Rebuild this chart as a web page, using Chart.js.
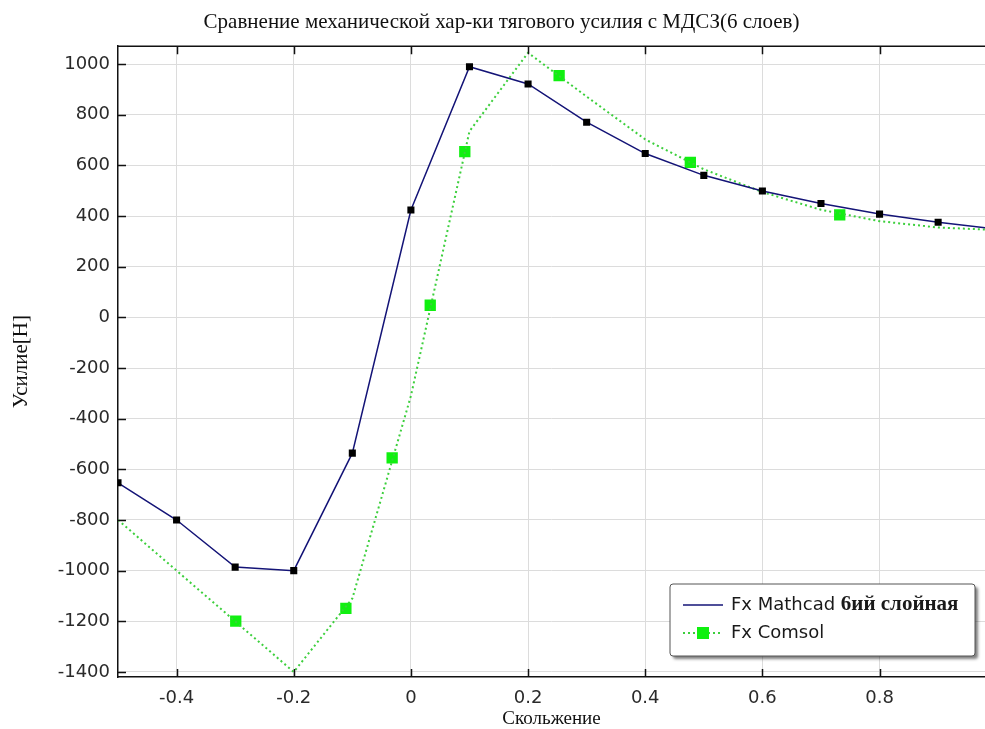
<!DOCTYPE html>
<html>
<head>
    <meta charset="utf-8">
    <title>Сравнение механической хар-ки тягового усилия</title>
    <script src="https://cdn.jsdelivr.net/npm/chart.js"></script>
    <style>
        body {
            margin: 0;
            background-color: #fff;
        }

        .chart-box {
            position: relative;
            width: 985px;
            height: 729px;
        }
    </style>
</head>
<body>
    <div class="chart-box">
        <canvas id="forceChart"></canvas>
    </div>

    <script>
        // slip values and force [N]
        const slip = [-0.5, -0.4, -0.3, -0.2, -0.1, 0, 0.1, 0.2, 0.3, 0.4, 0.5, 0.6, 0.7, 0.8, 0.9, 1.0];
        const mathcadForce = [-653, -800, -986, -1000, -536, 424, 990, 922, 771, 647, 561, 499, 450, 408, 376, 348];
        const comsolForce = [-800, -1000, -1200, -1400, -1110, -310, 735, 1045, 872, 703, 585, 495, 425, 380, 355, 345];

        // Comsol markers sit along the curve, not on the data points
        const comsolMarkerSlip = [-0.299, -0.111, -0.032, 0.033, 0.092, 0.253, 0.477, 0.732];
        const comsolMarkerForce = [-1199, -1149, -555, 48, 655, 955, 612, 405];

        const xTicks = [-0.4, -0.2, 0, 0.2, 0.4, 0.6, 0.8];
        const yTicks = [-1400, -1200, -1000, -800, -600, -400, -200, 0, 200, 400, 600, 800, 1000];

        const chartTitle = 'Сравнение механической хар-ки тягового усилия с МДСЗ(6 слоев)';
        const xTitle = 'Скольжение';
        const yTitle = 'Усилие[Н]';

        const serif = '"Liberation Serif", "DejaVu Serif", serif';
        const sans = '"DejaVu Sans", sans-serif';

        // top frame line and the small inward tick marks
        const axesFrame = {
            id: 'axesFrame',
            afterDatasetsDraw(chart) {
                const { ctx, chartArea: a, scales: { x, y } } = chart;
                ctx.save();
                ctx.strokeStyle = '#111';
                ctx.lineWidth = 1.5;
                ctx.beginPath();
                ctx.moveTo(a.left, a.top);
                ctx.lineTo(a.right, a.top);
                xTicks.forEach(v => {
                    const px = Math.round(x.getPixelForValue(v)) + 0.5;
                    ctx.moveTo(px, a.top);
                    ctx.lineTo(px, a.top + 8);
                    ctx.moveTo(px, a.bottom);
                    ctx.lineTo(px, a.bottom - 8);
                });
                yTicks.forEach(v => {
                    const py = Math.round(y.getPixelForValue(v)) + 0.5;
                    ctx.moveTo(a.left, py);
                    ctx.lineTo(a.left + 8, py);
                });
                ctx.stroke();
                ctx.restore();
            }
        };

        // latin part in sans, the cyrillic words in serif (like the original font fallback)
        function drawMixed(ctx, text, x, y) {
            const cyr = text.search(/[\u0400-\u04FF]/);
            let first = text, second = '';
            if (cyr >= 0) {
                const cut = text.lastIndexOf(' ', cyr) + 1;
                first = text.slice(0, cut);
                second = text.slice(cut);
            }
            ctx.font = '18px ' + sans;
            ctx.fillText(first, x, y);
            const w = ctx.measureText(first).width;
            ctx.font = 'bold 21px ' + serif;
            ctx.fillText(second, x + w, y);
        }

        // boxed legend inside the plot, bottom right
        const boxLegend = {
            id: 'boxLegend',
            afterDraw(chart) {
                const { ctx, chartArea: a } = chart;
                const ds = chart.data.datasets;
                const bw = 305, bh = 72;
                const bx = a.right - 10 - bw;
                const by = a.bottom - 21 - bh;
                ctx.save();
                ctx.shadowColor = 'rgba(0, 0, 0, 0.5)';
                ctx.shadowBlur = 3;
                ctx.shadowOffsetX = 3;
                ctx.shadowOffsetY = 3;
                ctx.fillStyle = '#fff';
                ctx.beginPath();
                ctx.roundRect(bx, by, bw, bh, 3);
                ctx.fill();
                ctx.shadowColor = 'transparent';
                ctx.strokeStyle = '#555';
                ctx.lineWidth = 1;
                ctx.stroke();

                const rows = [by + 21, by + 49];
                const sx = bx + 13, ex = bx + 53;

                // row 1: solid line
                ctx.strokeStyle = ds[0].borderColor;
                ctx.lineWidth = ds[0].borderWidth;
                ctx.beginPath();
                ctx.moveTo(sx, rows[0]);
                ctx.lineTo(ex, rows[0]);
                ctx.stroke();

                // row 2: dotted line + square marker
                ctx.strokeStyle = ds[1].borderColor;
                ctx.lineWidth = ds[1].borderWidth;
                ctx.setLineDash(ds[1].borderDash);
                ctx.beginPath();
                ctx.moveTo(sx, rows[1]);
                ctx.lineTo(ex, rows[1]);
                ctx.stroke();
                ctx.setLineDash([]);
                ctx.fillStyle = ds[2].pointBackgroundColor;
                ctx.fillRect((sx + ex) / 2 - 6, rows[1] - 6, 12, 12);

                ctx.fillStyle = '#1a1a1a';
                ctx.textBaseline = 'middle';
                ctx.textAlign = 'left';
                drawMixed(ctx, ds[0].label, ex + 8, rows[0]);
                drawMixed(ctx, ds[1].label, ex + 8, rows[1]);
                ctx.restore();
            }
        };

        const forceChart = new Chart(document.getElementById('forceChart'), {
            type: 'line',
            data: {
                datasets: [
                    {
                        label: 'Fx Mathcad 6ий слойная',
                        data: slip.map((s, i) => ({ x: s, y: mathcadForce[i] })),
                        borderColor: '#141477',
                        borderWidth: 1.5,
                        pointStyle: 'rect',
                        pointRadius: 5,
                        pointBackgroundColor: '#000',
                        pointBorderWidth: 0,
                        tension: 0
                    },
                    {
                        label: 'Fx Comsol',
                        data: slip.map((s, i) => ({ x: s, y: comsolForce[i] })),
                        borderColor: '#3ccf3c',
                        borderWidth: 2,
                        borderDash: [2, 3],
                        pointRadius: 0,
                        tension: 0
                    },
                    {
                        label: 'Fx Comsol markers',
                        data: comsolMarkerSlip.map((s, i) => ({ x: s, y: comsolMarkerForce[i] })),
                        showLine: false,
                        pointStyle: 'rect',
                        pointRadius: 8,
                        pointBackgroundColor: '#10f010',
                        pointBorderWidth: 0
                    }
                ]
            },
            options: {
                responsive: true,
                maintainAspectRatio: false,
                animation: false,
                layout: { autoPadding: false, padding: { left: 18, right: 0, top: 0, bottom: 0 } },
                plugins: {
                    legend: { display: false },
                    tooltip: { enabled: false },
                    title: {
                        display: true,
                        text: chartTitle,
                        color: '#111',
                        font: { family: serif, size: 21, weight: 'normal' },
                        padding: { top: 10, bottom: 11 }
                    }
                },
                scales: {
                    x: {
                        type: 'linear',
                        min: -0.5,
                        max: 0.98,
                        afterBuildTicks: s => { s.ticks = xTicks.map(v => ({ value: v })); },
                        afterFit: s => {
                            s.height = 52;
                            s.paddingLeft = 0;
                            s.paddingRight = 0;
                        },
                        ticks: {
                            callback: v => String(v),
                            color: '#2a2a2a',
                            font: { family: sans, size: 18 },
                            padding: 11,
                            maxRotation: 0,
                            autoSkip: false
                        },
                        grid: { color: '#dcdcdc', drawTicks: false },
                        border: { color: '#111', width: 1.5 },
                        title: {
                            display: true,
                            text: xTitle,
                            color: '#111',
                            font: { family: serif, size: 19, lineHeight: 1 },
                            padding: { top: 0, bottom: 0 }
                        }
                    },
                    y: {
                        min: -1420,
                        max: 1071,
                        afterBuildTicks: s => { s.ticks = yTicks.map(v => ({ value: v })); },
                        afterFit: s => { s.width = 100; },
                        ticks: {
                            callback: v => String(v),
                            color: '#2a2a2a',
                            font: { family: sans, size: 18 },
                            padding: 8,
                            autoSkip: false
                        },
                        grid: { color: '#dcdcdc', drawTicks: false },
                        border: { color: '#111', width: 1.5 },
                        title: {
                            display: true,
                            text: yTitle,
                            color: '#111',
                            font: { family: serif, size: 21, lineHeight: 1 },
                            padding: { top: -7, bottom: 0 }
                        }
                    }
                }
            },
            plugins: [axesFrame, boxLegend]
        });
    </script>
</body>
</html>
